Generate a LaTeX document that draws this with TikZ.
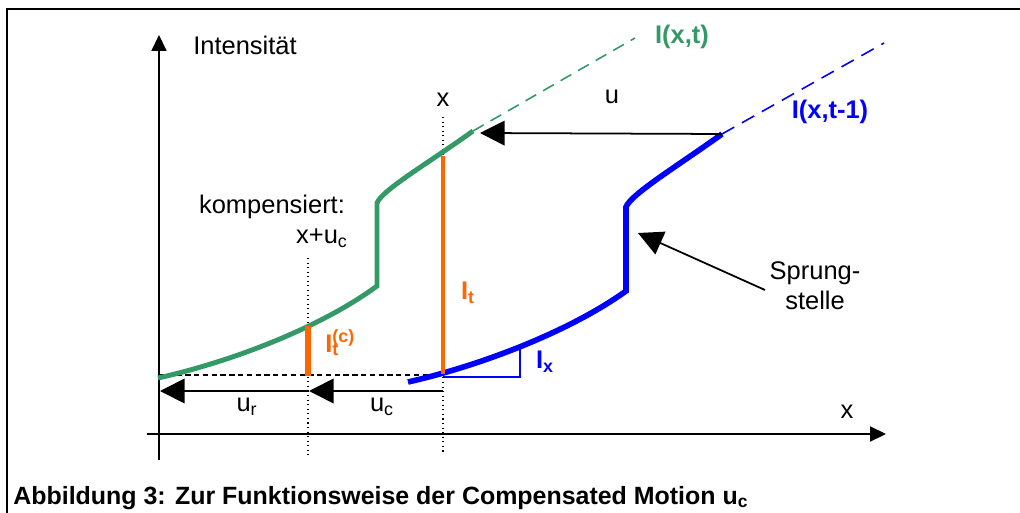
\documentclass[tikz,border=0pt]{standalone}
\usepackage{fontspec}
\setmainfont{Liberation Sans}
\usetikzlibrary{arrows.meta}
\definecolor{kurvegruen}{RGB}{51,153,102}
\definecolor{kurveblau}{RGB}{0,0,255}
\definecolor{balkenorange}{RGB}{255,102,0}
\tikzset{
  achse/.style={line width=0.9pt,-{Triangle[length=9pt,width=8.5pt]}},
  verschub/.style={line width=1pt,-{Triangle[length=14pt,width=14pt]}},
  hilfslinie/.style={line width=0.6pt,dotted},
  txt/.style={font=\fontsize{14.5}{17}\selectfont,inner sep=0pt},
  btxt/.style={inner sep=0pt,font=\fontsize{14.5}{17}\selectfont\bfseries},
}
\begin{document}
\begin{tikzpicture}[x=0.02cm,y=-0.02cm]
\useasboundingbox (0,0) rectangle (1020,513);
\draw[line width=1.2pt] (7,530) -- (7,9) -- (1040,9);
% Achsen
\coordinate (yfuss) at (159,460);
\coordinate (yspitze) at (159,35);
\coordinate (xfuss) at (147,434);
\coordinate (xspitze) at (886,434);
\draw[achse] (yfuss) -- (yspitze);
\draw[achse] (xfuss) -- (xspitze);
\node[txt] (lint) at (245,45) {Intensität};
\node[txt] (lxachse) at (847,412) {x};
% Hilfslinien
\coordinate (xoben) at (443,117);
\coordinate (xunten) at (443,455);
\coordinate (kompoben) at (308,258);
\coordinate (kompunten) at (308,455);
\draw[hilfslinie] (xoben) -- (xunten);
\draw[hilfslinie] (kompoben) -- (kompunten);
\draw[line width=0.6pt,dash pattern=on 3pt off 2pt] (159,375) -- (443,375);
% Kurven
\coordinate (gruenende) at (473,131);
\coordinate (gruenspitze) at (635,38);
\coordinate (blauende) at (722,134);
\coordinate (blauspitze) at (884,43);
\draw[kurvegruen,line width=2.8pt] (158,378) .. controls (230,362) and (320,328) .. (377,286)
  -- (377,203) .. controls (382,190) and (430,162) .. (gruenende);
\draw[kurvegruen,line width=0.9pt,dash pattern=on 7pt off 4.5pt] (gruenende) -- (gruenspitze);
\draw[kurveblau,line width=3.2pt] (408,382) .. controls (479,366) and (569,332) .. (626,291)
  -- (626,207) .. controls (631,194) and (679,165) .. (blauende);
\draw[kurveblau,line width=0.9pt,dash pattern=on 8pt off 5pt] (blauende) -- (blauspitze);
\node[btxt,text=kurvegruen] (lgruen) at (682,37) {I(x,t)};
\node[btxt,text=kurveblau] (lblau) at (830,112) {I(x,t-1)};
% Balken
\draw[balkenorange,line width=2.3pt] (443,374) -- (443,156);
\draw[balkenorange,line width=3.4pt] (308,376) -- (308,326);
\node[btxt,text=balkenorange] (lit) at (468,293) {I\textsubscript{t}};
\node[btxt,text=balkenorange,anchor=west] (litc) at (325,343) {I\rlap{\textsubscript{t}}\textsuperscript{(c)}};
\draw[kurveblau,line width=0.9pt] (443,377) -- (520,377) -- (520,349);
\node[btxt,text=kurveblau] (lix) at (545,362) {I\textsubscript{x}};
% Verschiebungen
\coordinate (uspitze) at (480,133);
\draw[verschub] (blauende) -- (uspitze);
\node[txt] (lu) at (612,97) {u};
\node[txt] (lx) at (443,100) {x};
\coordinate (ucstart) at (443,391);
\coordinate (ucspitze) at (309,391);
\coordinate (urspitze) at (160,391);
\draw[verschub] (ucstart) -- (ucspitze);
\draw[verschub] (ucspitze) -- (urspitze);
\node[txt] (lur) at (247,407) {u\textsubscript{r}};
\node[txt] (luc) at (382,407) {u\textsubscript{c}};
\node[txt] (lkomp) at (272,207) {kompensiert:};
\node[txt] (lxuc) at (322,238) {x+u\textsubscript{c}};
% Sprungstelle
\node[txt,align=center] (lsprung) at (815,286) {Sprung-\\stelle};
\coordinate (sprungfuss) at (765,290);
\coordinate (sprungspitze) at (638,233);
\draw[verschub] (sprungfuss) -- (sprungspitze);
\node[btxt,anchor=base west,font=\fontsize{14.2}{17}\selectfont\bfseries] (titel) at (13,504) {Abbildung 3: Zur Funktionsweise der Compensated Motion u\textsubscript{c}};
\end{tikzpicture}
\end{document}
